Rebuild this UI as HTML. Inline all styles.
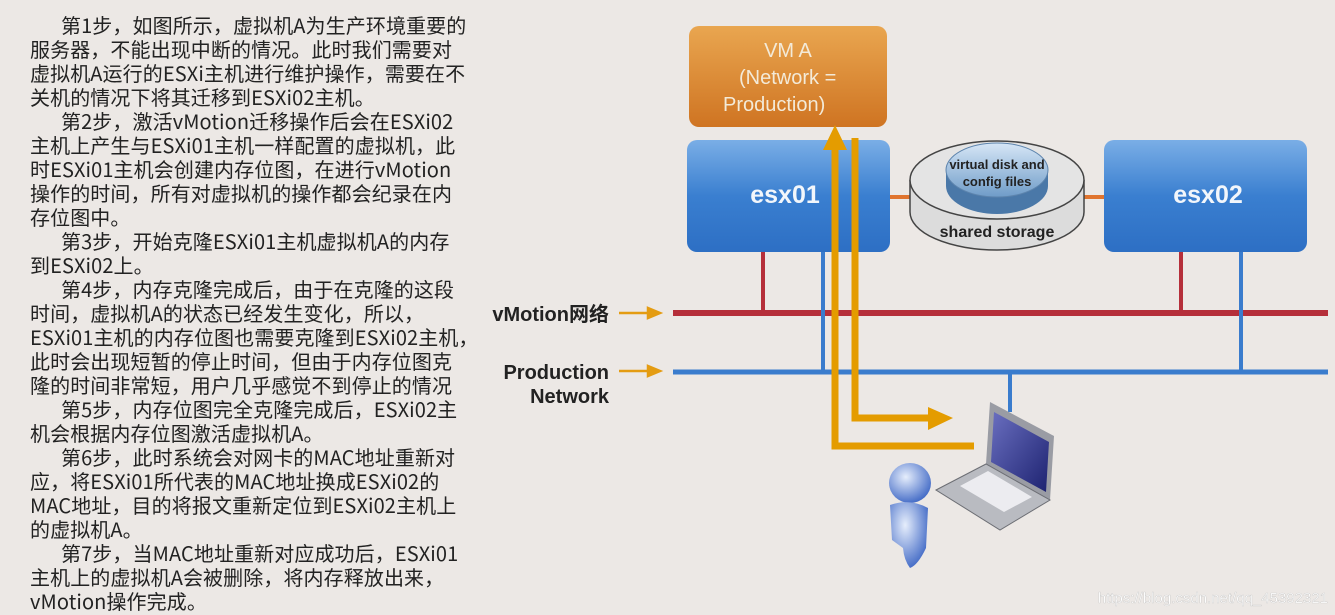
<!DOCTYPE html>
<html><head><meta charset="utf-8"><style>
html,body{margin:0;padding:0;background:#ece8e5;}
body{width:1335px;height:615px;position:relative;overflow:hidden;font-family:"Liberation Sans","Noto Sans CJK SC",sans-serif;}
#t{position:absolute;left:30px;top:13px;font-family:"Noto Sans CJK SC","Liberation Sans",sans-serif;font-size:20px;line-height:24px;color:#222;white-space:nowrap;letter-spacing:0.1px;}
#t div{height:24px;}
.i{padding-left:31px;}
svg{position:absolute;left:0;top:0;}
</style></head><body>
<div id="t">
<div class="i">第1步，如图所示，虚拟机A为生产环境重要的</div>
<div>服务器，不能出现中断的情况。此时我们需要对</div>
<div>虚拟机A运行的ESXi主机进行维护操作，需要在不</div>
<div>关机的情况下将其迁移到ESXi02主机。</div>
<div class="i">第2步，激活vMotion迁移操作后会在ESXi02</div>
<div>主机上产生与ESXi01主机一样配置的虚拟机，此</div>
<div>时ESXi01主机会创建内存位图，在进行vMotion</div>
<div>操作的时间，所有对虚拟机的操作都会纪录在内</div>
<div>存位图中。</div>
<div class="i">第3步，开始克隆ESXi01主机虚拟机A的内存</div>
<div>到ESXi02上。</div>
<div class="i">第4步，内存克隆完成后，由于在克隆的这段</div>
<div>时间，虚拟机A的状态已经发生变化，所以，</div>
<div>ESXi01主机的内存位图也需要克隆到ESXi02主机，</div>
<div>此时会出现短暂的停止时间，但由于内存位图克</div>
<div>隆的时间非常短，用户几乎感觉不到停止的情况</div>
<div class="i">第5步，内存位图完全克隆完成后，ESXi02主</div>
<div>机会根据内存位图激活虚拟机A。</div>
<div class="i">第6步，此时系统会对网卡的MAC地址重新对</div>
<div>应，将ESXi01所代表的MAC地址换成ESXi02的</div>
<div>MAC地址，目的将报文重新定位到ESXi02主机上</div>
<div>的虚拟机A。</div>
<div class="i">第7步，当MAC地址重新对应成功后，ESXi01</div>
<div>主机上的虚拟机A会被删除，将内存释放出来，</div>
<div>vMotion操作完成。</div>
</div>
<svg width="1335" height="615" viewBox="0 0 1335 615">
<defs>
<linearGradient id="bl" x1="0" y1="0" x2="0" y2="1"><stop offset="0" stop-color="#7aaee6"/><stop offset="0.5" stop-color="#3a7fd0"/><stop offset="1" stop-color="#2d6fc4"/></linearGradient>
<linearGradient id="or" x1="0" y1="0" x2="0" y2="1"><stop offset="0" stop-color="#e9a650"/><stop offset="1" stop-color="#cf7422"/></linearGradient>
<linearGradient id="dk" x1="0" y1="0" x2="0" y2="1"><stop offset="0" stop-color="#d6e6f6"/><stop offset="1" stop-color="#6f9cc8"/></linearGradient>
<linearGradient id="scr" x1="0" y1="0" x2="1" y2="1"><stop offset="0" stop-color="#6a6fc0"/><stop offset="1" stop-color="#1d2270"/></linearGradient>
<radialGradient id="pp" cx="0.4" cy="0.35" r="0.7"><stop offset="0" stop-color="#e6eefc"/><stop offset="1" stop-color="#3d66c4"/></radialGradient>
</defs>
<g font-family="Liberation Sans, Noto Sans CJK SC, sans-serif" font-weight="bold" font-size="20" fill="#222" text-anchor="end">
<text x="609" y="321">vMotion网络</text>
<text x="609" y="379">Production</text>
<text x="609" y="403">Network</text>
</g>
<g stroke="#e49c12" stroke-width="2.5" fill="#e49c12">
<line x1="619" y1="313" x2="650" y2="313"/><polygon points="648,308 660,313 648,318"/>
<line x1="619" y1="371" x2="650" y2="371"/><polygon points="648,366 660,371 648,376"/>
</g>
<rect x="689" y="26" width="198" height="101" rx="10" fill="url(#or)"/>
<g font-size="20" fill="#f3ead8" font-family="Liberation Sans, sans-serif">
<text x="788" y="57" text-anchor="middle">VM A</text>
<text x="739" y="84">(Network =</text>
<text x="723" y="111">Production)</text>
</g>
<rect x="687" y="140" width="203" height="112" rx="10" fill="url(#bl)"/>
<rect x="1104" y="140" width="203" height="112" rx="10" fill="url(#bl)"/>
<g font-size="25" font-weight="bold" fill="#f2f6fb" font-family="Liberation Sans, sans-serif" text-anchor="middle">
<text x="785" y="203">esx01</text><text x="1208" y="203">esx02</text>
</g>
<line x1="890" y1="197" x2="912" y2="197" stroke="#e0742e" stroke-width="4"/>
<line x1="1082" y1="197" x2="1104" y2="197" stroke="#e0742e" stroke-width="4"/>
<path d="M910,180 L910,212 A87,38 0 0 0 1084,212 L1084,180" fill="#dcdcdc" stroke="#444" stroke-width="1.5"/>
<ellipse cx="997" cy="180" rx="87" ry="39" fill="#e4e4e4" stroke="#444" stroke-width="1.5"/>
<path d="M946,170 L946,186 A51,28 0 0 0 1048,186 L1048,170" fill="#4a78a8"/>
<ellipse cx="997" cy="170" rx="51" ry="27" fill="url(#dk)" stroke="#5d84ad"/>
<g font-family="Liberation Sans, sans-serif" fill="#222" text-anchor="middle" font-weight="bold">
<text x="997" y="169" font-size="13">virtual disk and</text>
<text x="997" y="186" font-size="13">config files</text>
<text x="997" y="237" font-size="16">shared storage</text>
</g>
<g stroke="#b52f3a" stroke-width="4"><line x1="763" y1="252" x2="763" y2="313"/><line x1="1181" y1="252" x2="1181" y2="313"/></g>
<line x1="673" y1="313" x2="1328" y2="313" stroke="#b52f3a" stroke-width="6"/>
<g stroke="#3a7ccd" stroke-width="4"><line x1="823" y1="252" x2="823" y2="372"/><line x1="1241" y1="252" x2="1241" y2="372"/><line x1="1010" y1="372" x2="1010" y2="412"/></g>
<line x1="673" y1="372" x2="1328" y2="372" stroke="#3a7ccd" stroke-width="5"/>
<g fill="none" stroke="#e49c00" stroke-width="7">
<polyline points="835,145 835,446 974,446"/>
<polyline points="855,138 855,418 932,418"/>
</g>
<polygon points="823,150 835,125 847,150" fill="#e49c00"/>
<polygon points="928,407 953,418 928,430" fill="#e49c00"/>
<polygon points="990,402 1054,436 1050,500 986,464" fill="#9a9ca4"/>
<polygon points="994,412 1049,442 1046,492 991,462" fill="url(#scr)"/>
<polygon points="936,490 986,464 1050,500 1000,530" fill="#b9bbc1" stroke="#6c6e74"/>
<polygon points="960,486 988,471 1032,497 1004,512" fill="#ececf0"/>
<ellipse cx="910" cy="483" rx="21" ry="20" fill="url(#pp)"/>
<path d="M890,505 Q910,498 928,508 L926,548 Q918,565 910,568 Q904,560 903,548 L892,540 Z" fill="url(#pp)"/>
<text x="1328" y="603" text-anchor="end" font-family="Liberation Sans, sans-serif" font-size="15" fill="#fff" stroke="#bbb" stroke-width="0.3">https://blog.csdn.net/qq_45392321</text>
</svg>
</body></html>
